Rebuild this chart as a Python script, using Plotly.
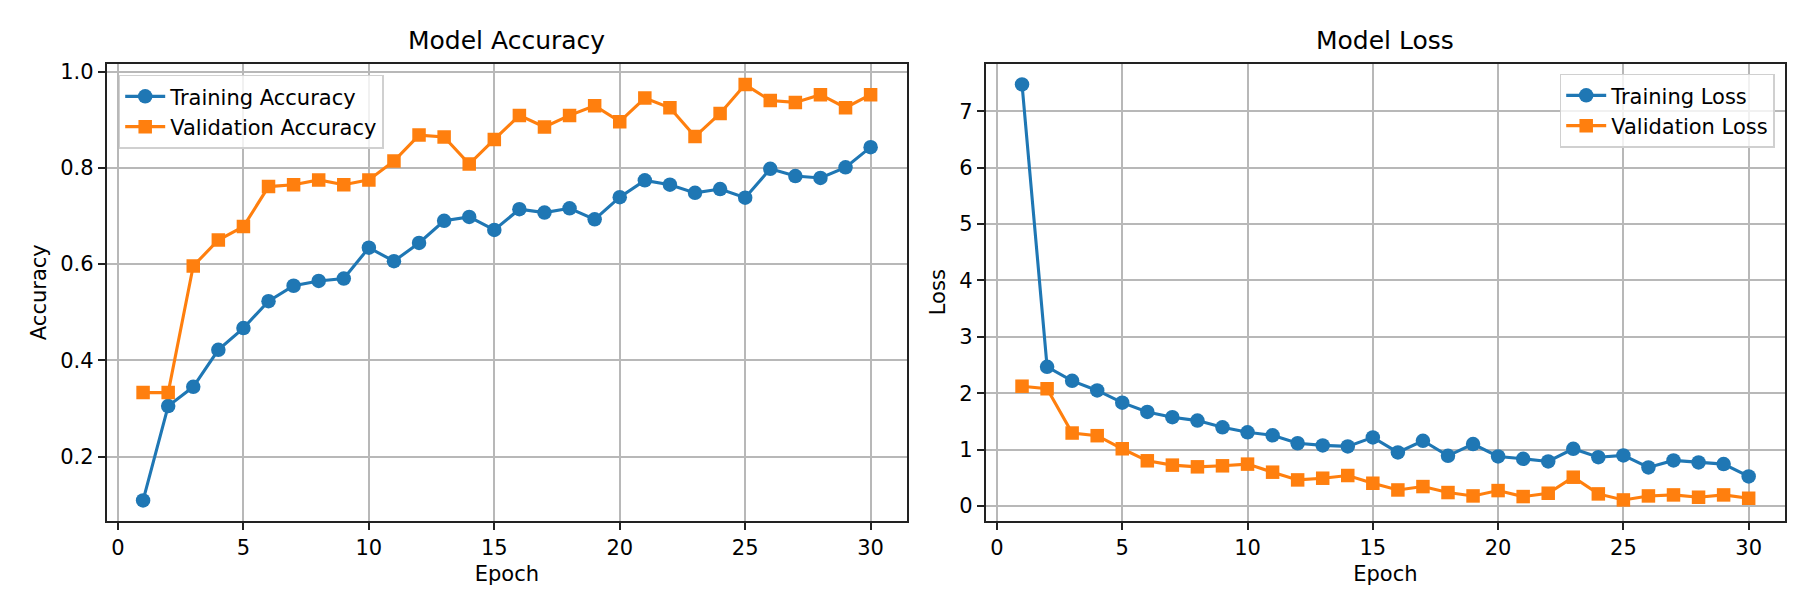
import plotly.graph_objects as go

epochs = list(range(1, 31))

train_acc = [0.109, 0.305, 0.345, 0.422, 0.467, 0.523, 0.555, 0.565, 0.570, 0.634,
             0.606, 0.644, 0.690, 0.698, 0.671, 0.714, 0.707, 0.716, 0.693, 0.739,
             0.774, 0.765, 0.748, 0.756, 0.738, 0.798, 0.783, 0.779, 0.801, 0.843]
val_acc = [0.333, 0.333, 0.596, 0.650, 0.678, 0.761, 0.765, 0.775, 0.765, 0.775,
           0.814, 0.868, 0.864, 0.808, 0.859, 0.909, 0.885, 0.909, 0.929, 0.896,
           0.945, 0.925, 0.865, 0.913, 0.973, 0.940, 0.936, 0.952, 0.925, 0.952]

train_loss = [7.474, 2.469, 2.220, 2.050, 1.834, 1.669, 1.575, 1.515, 1.397, 1.308,
              1.254, 1.114, 1.076, 1.058, 1.218, 0.951, 1.158, 0.891, 1.099, 0.880,
              0.838, 0.791, 1.016, 0.866, 0.898, 0.685, 0.810, 0.774, 0.744, 0.525]
val_loss = [2.125, 2.080, 1.295, 1.248, 1.016, 0.803, 0.726, 0.696, 0.714, 0.744,
            0.601, 0.464, 0.494, 0.542, 0.405, 0.286, 0.346, 0.240, 0.180, 0.275,
            0.169, 0.228, 0.512, 0.216, 0.109, 0.180, 0.198, 0.157, 0.198, 0.139]

BLUE = "#1f77b4"
ORANGE = "#ff7f0e"
FONT = "DejaVu Sans"

W, H = 1800, 600


def px_x(p):
    return p / W


def px_y(p):
    return 1 - p / H


fig = go.Figure()


def add_series(x, y, name, color, symbol, size, xa, ya, legend):
    fig.add_trace(
        go.Scatter(
            x=x,
            y=y,
            name=name,
            mode="lines+markers",
            line=dict(color=color, width=3.1),
            marker=dict(color=color, size=size, symbol=symbol),
            xaxis=xa,
            yaxis=ya,
            legend=legend,
        )
    )


add_series(epochs, train_acc, "Training Accuracy", BLUE, "circle", 14.5, "x", "y", "legend")
add_series(epochs, val_acc, "Validation Accuracy", ORANGE, "square", 13.5, "x", "y", "legend")
add_series(epochs, train_loss, "Training Loss", BLUE, "circle", 14.5, "x2", "y2", "legend2")
add_series(epochs, val_loss, "Validation Loss", ORANGE, "square", 13.5, "x2", "y2", "legend2")

y_dom = [px_y(512.7), px_y(55.7)]

axis_common = dict(
    automargin=False,
    showline=True,
    linecolor="#222222",
    linewidth=1.7,
    mirror=True,
    ticks="outside",
    ticklen=7,
    tickwidth=1.7,
    tickcolor="#222222",
    showgrid=True,
    gridcolor="#b8b8b8",
    gridwidth=1.7,
    zeroline=False,
    tickfont=dict(family=FONT, size=21, color="black"),
    title_font=dict(family=FONT, size=21, color="black"),
)

legend_common = dict(
    bgcolor="rgba(255,255,255,0.8)",
    bordercolor="#d0d0d0",
    borderwidth=1.5,
    font=dict(family=FONT, size=21, color="black"),
    tracegroupgap=0,
    itemwidth=40,
)

fig.update_layout(
    width=W,
    height=H,
    margin=dict(l=0, r=0, t=0, b=0),
    paper_bgcolor="white",
    plot_bgcolor="white",
    font=dict(family=FONT, size=21, color="black"),
    xaxis=dict(
        domain=[px_x(98.7), px_x(899)],
        range=[-0.45, 31.45],
        tick0=0,
        dtick=5,
        title=dict(text="Epoch", standoff=8),
        anchor="y",
        **axis_common,
    ),
    yaxis=dict(
        domain=y_dom,
        range=[0.0668, 1.0164],
        tick0=0,
        dtick=0.2,
        tickformat=".1f",
        title=dict(text="Accuracy", standoff=8),
        anchor="x",
        **axis_common,
    ),
    xaxis2=dict(
        domain=[px_x(977.7), px_x(1777)],
        range=[-0.45, 31.45],
        tick0=0,
        dtick=5,
        title=dict(text="Epoch", standoff=8),
        anchor="y2",
        **axis_common,
    ),
    yaxis2=dict(
        domain=y_dom,
        range=[-0.259, 7.842],
        tick0=0,
        dtick=1,
        title=dict(text="Loss", standoff=8),
        anchor="x2",
        **axis_common,
    ),
    legend=dict(
        x=px_x(110.7),
        y=px_y(66.7),
        xanchor="left",
        yanchor="top",
        **legend_common,
    ),
    legend2=dict(
        x=px_x(1766.7),
        y=px_y(65.7),
        xanchor="right",
        yanchor="top",
        **legend_common,
    ),
    annotations=[
        dict(
            text="Model Accuracy",
            x=px_x(498.9),
            y=px_y(49),
            xref="paper",
            yref="paper",
            xanchor="center",
            yanchor="bottom",
            showarrow=False,
            font=dict(family=FONT, size=25, color="black"),
        ),
        dict(
            text="Model Loss",
            x=px_x(1377.4),
            y=px_y(49),
            xref="paper",
            yref="paper",
            xanchor="center",
            yanchor="bottom",
            showarrow=False,
            font=dict(family=FONT, size=25, color="black"),
        ),
    ],
)

fig.write_html("out.html")
